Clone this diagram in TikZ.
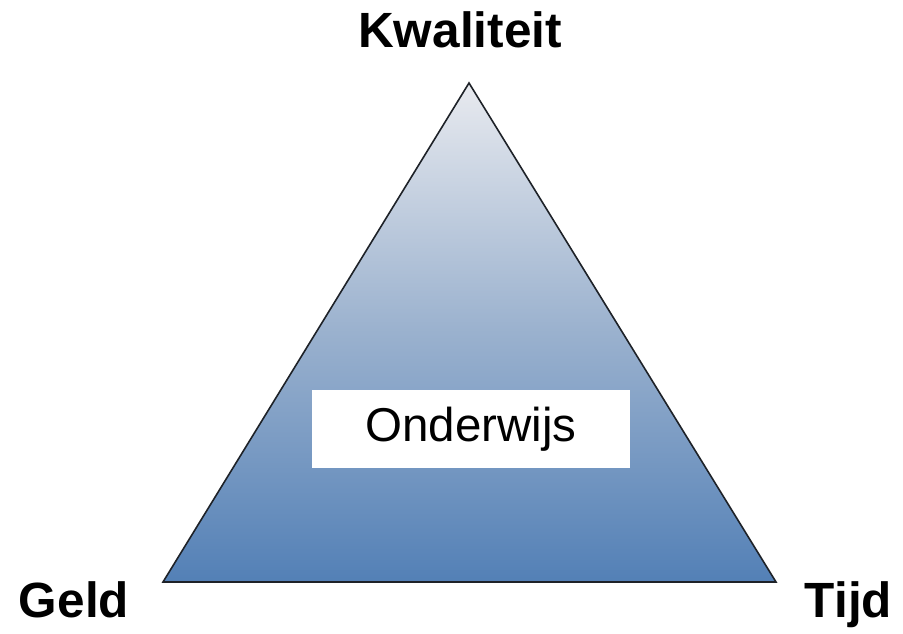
\documentclass[tikz,border=0pt]{standalone}
\usepackage{fontspec}
\setmainfont{Liberation Sans}
\definecolor{topc}{HTML}{E8EAEF}
\definecolor{midc}{HTML}{9AB1CE}
\definecolor{botc}{HTML}{5380B6}
\definecolor{edgec}{HTML}{1E2228}
\begin{document}
\begin{tikzpicture}[x=1pt,y=-1pt,
  corner/.style={font=\fontsize{49.5}{49.5}\selectfont\bfseries, inner sep=0pt, anchor=base},
  boxlabel/.style={fill=white, minimum width=318pt, minimum height=78pt, inner sep=0pt, font=\fontsize{47.5}{47.5}\selectfont}]
\useasboundingbox (0,0) rectangle (903,634);
\coordinate (apex) at (469,83);
\coordinate (bl) at (163,582);
\coordinate (br) at (776,582);
\shade[top color=topc, bottom color=botc, middle color=midc, draw=edgec, line width=1.6pt, line join=miter]
  (apex) -- (br) -- (bl) -- cycle;
\node[boxlabel] (onderwijs) at (471,429) {Onderwijs};
\node[corner] (kwaliteit) at (460,48) {Kwaliteit};
\node[corner] (geld) at (74,617) {Geld};
\node[corner] (tijd) at (848.5,617) {Tijd};
\end{tikzpicture}
\end{document}
